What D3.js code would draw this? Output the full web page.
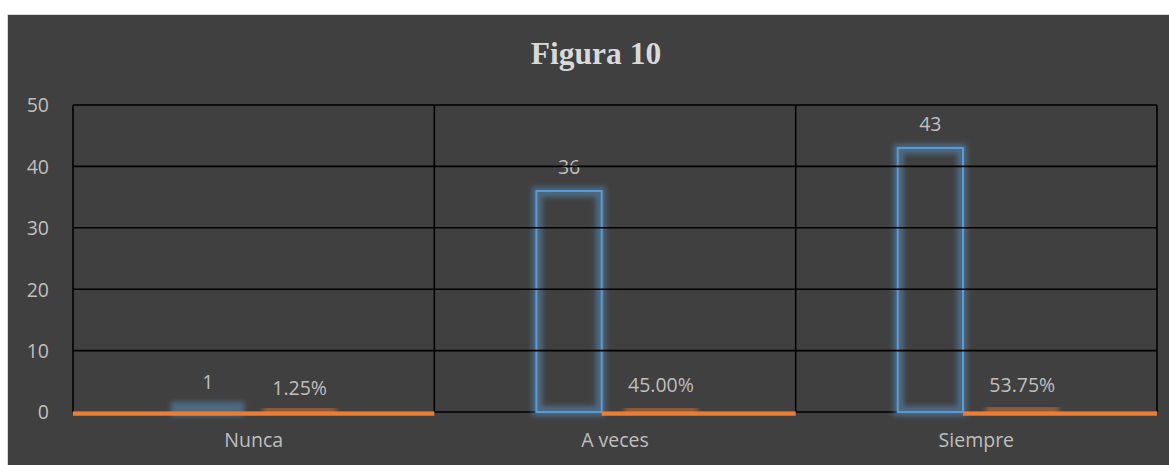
<!DOCTYPE html>
<html>
<head>
<meta charset="utf-8">
<script src="https://cdn.jsdelivr.net/npm/d3@7"></script>
<style>
  html, body { margin: 0; padding: 0; background: #ffffff; }
  svg { display: block; }
</style>
</head>
<body>
<svg id="chart" width="1169" height="465"></svg>
<script>
// Survey responses for "Figura 10"
const categories = ["Nunca", "A veces", "Siempre"];
const counts = [1, 36, 43];            // frequency
const percents = [1.25, 45.00, 53.75];  // percentage of respondents
const yTicks = [0, 10, 20, 30, 40, 50];
const title = "Figura 10";

const W = 1169, H = 465;
const svg = d3.select("#chart");

const plot = { left: 73, right: 1157, top: 105, bottom: 412 };

// chart background
svg.append("rect")
  .attr("x", 7.5).attr("y", 14.5)
  .attr("width", W + 20).attr("height", H)
  .attr("fill", "#404040")
  .attr("stroke", "#d9d9d9").attr("stroke-width", 1);

const defs = svg.append("defs");
const glow = defs.append("filter").attr("id", "glow")
  .attr("x", "-50%").attr("y", "-200%").attr("width", "200%").attr("height", "500%");
glow.append("feGaussianBlur").attr("stdDeviation", 2.6);

svg.append("text")
  .attr("x", 596).attr("y", 64)
  .attr("text-anchor", "middle")
  .attr("font-family", "'Liberation Serif', 'Times New Roman', serif")
  .attr("font-weight", "bold")
  .attr("font-size", 31.5)
  .attr("fill", "#d9d9d9")
  .text(title);

const x = d3.scaleBand().domain(categories).range([plot.left, plot.right]).padding(0);
const bw = x.bandwidth();
const inner = d3.scaleBand().domain([0, 1])
  .range([bw * 0.2825, bw * 0.7175]).paddingInner(0.29).paddingOuter(0);
const y = d3.scaleLinear().domain([0, 50]).range([plot.bottom, plot.top]);

const font = "'Open Sans', 'Noto Sans', sans-serif";
const textCol = "#bfbfbf";

// baseline (value 0) under the bars
svg.append("line")
  .attr("x1", plot.left).attr("x2", plot.right)
  .attr("y1", y(0)).attr("y2", y(0))
  .attr("stroke", "#000").attr("stroke-width", 1.6);

// vertical separators between categories
const seps = categories.map(c => x(c)).concat([plot.right]);

const rows = categories.map((c, i) => ({ c, count: counts[i], pct: percents[i] }));

// series drawn as outlined bars with a soft glow
function drawSeries(key, valueOf, color, slot, labelOf) {
  const g = svg.append("g").attr("class", key);
  const x0 = d => x(d.c) + inner(slot);
  const w = inner.bandwidth();
  g.selectAll("rect.glow").data(rows).join("rect")
    .attr("class", "glow")
    .attr("x", d => x0(d) + 1).attr("width", w - 2)
    .attr("y", d => Math.min(y(valueOf(d)) + 1, y(0) - 2))
    .attr("height", d => Math.max(1, y(0) - y(valueOf(d)) - 2))
    .attr("fill", "none")
    .attr("stroke", color).attr("stroke-width", 10).attr("stroke-opacity", 0.45)
    .attr("filter", "url(#glow)");
  g.selectAll("rect.bar").data(rows).join("rect")
    .attr("class", "bar")
    .attr("x", x0).attr("width", w)
    .attr("y", d => y(valueOf(d)))
    .attr("height", d => y(0) - y(valueOf(d)))
    .attr("fill", "none")
    .attr("stroke", color).attr("stroke-width", 2)
    .attr("stroke-opacity", d => (y(0) - y(valueOf(d)) > 8 ? 1 : 0));
  g.selectAll("text").data(rows).join("text")
    .attr("x", d => x0(d) + w / 2)
    .attr("y", d => y(valueOf(d)) - 17)
    .attr("text-anchor", "middle")
    .attr("font-family", font).attr("font-size", 19.5)
    .attr("fill", textCol)
    .text(labelOf);
}

drawSeries("counts", d => d.count, "#5b9bd5", 0, d => d.count);
drawSeries("percents", d => d.pct / 100, "#ed7d31", 1, d => d.pct.toFixed(2) + "%");

// horizontal gridlines above zero
svg.append("g").selectAll("line").data(yTicks.filter(t => t > 0)).join("line")
  .attr("x1", plot.left).attr("x2", plot.right)
  .attr("y1", d => y(d)).attr("y2", d => y(d))
  .attr("stroke", "#000").attr("stroke-width", 1.6);

svg.append("g").selectAll("line").data(seps).join("line")
  .attr("x1", d => d).attr("x2", d => d)
  .attr("y1", plot.top).attr("y2", y(0))
  .attr("stroke", "#000").attr("stroke-width", 1.6);

// orange axis line for the percentage series, resuming after tall count bars
svg.append("g").selectAll("line").data(rows).join("line")
  .attr("x1", d => (y(0) - y(d.count) > 8 ? x(d.c) + inner(0) + inner.bandwidth() : x(d.c)))
  .attr("x2", d => x(d.c) + bw)
  .attr("y1", y(0) + 1.5).attr("y2", y(0) + 1.5)
  .attr("stroke", "#ed7d31").attr("stroke-width", 4.5);

// y-axis labels
const yAxis = d3.axisLeft(y).tickValues(yTicks).tickSize(0).tickPadding(0);
const ya = svg.append("g").attr("transform", `translate(49,0)`).call(yAxis);
ya.select(".domain").remove();
ya.selectAll("text")
  .attr("font-family", font).attr("font-size", 19.5)
  .attr("fill", textCol).attr("dy", "0.35em");

// category labels
const xAxis = d3.axisBottom(x).tickSize(0).tickPadding(0);
const xa = svg.append("g").attr("transform", `translate(0,433)`).call(xAxis);
xa.select(".domain").remove();
xa.selectAll("text")
  .attr("font-family", font).attr("font-size", 19.5)
  .attr("fill", textCol).attr("dy", "0.71em");
</script>
</body>
</html>
